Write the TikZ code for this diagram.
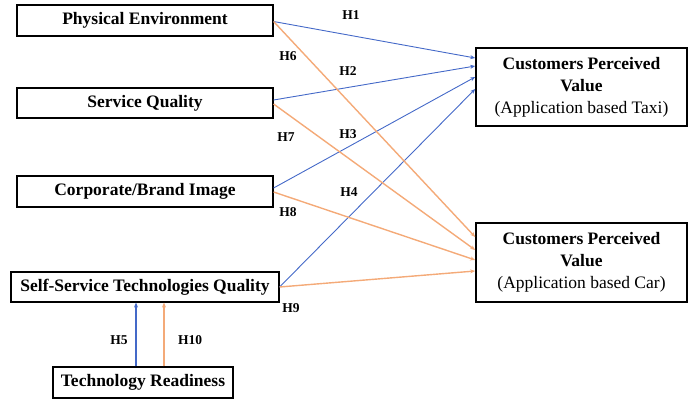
\documentclass[tikz,border=0pt]{standalone}
\usepackage{fontspec}
\setmainfont{Liberation Serif}
\usetikzlibrary{arrows.meta}
\definecolor{bl}{RGB}{68,105,200}
\definecolor{orng}{RGB}{244,170,120}
\tikzset{
  box/.style={draw, line width=1.2pt, inner sep=0pt, font=\fontsize{17.5}{19}\selectfont\bfseries},
  bigbox/.style={draw, line width=1.6pt, inner sep=0pt, align=center, font=\fontsize{17.5}{22}\selectfont},
  ba/.style={bl, line width=0.9pt, -{Stealth[length=5pt,width=4pt]}},
  oa/.style={orng, line width=1.4pt, -{Stealth[length=5pt,width=4pt]}},
  hl/.style={font=\fontsize{13.5}{14}\selectfont\bfseries}
}
\begin{document}
\begin{tikzpicture}[x=1pt,y=-1pt]
\useasboundingbox (0,0) rectangle (689,399);
\node[box, minimum width=256pt, minimum height=31pt] (pe) at (145,20.5) {Physical Environment};
\node[box, minimum width=256pt, minimum height=30pt] (sq) at (145,103) {Service Quality};
\node[box, minimum width=256pt, minimum height=31pt] (cb) at (145,191.5) {Corporate/Brand Image};
\node[box, minimum width=268pt, minimum height=30pt] (st) at (145,287) {Self-Service Technologies Quality};
\node[box, minimum width=180pt, minimum height=31pt] (tr) at (143,382.5) {Technology Readiness};
\node[bigbox, minimum width=211pt, minimum height=78pt] (taxi) at (581.5,87) {\textbf{Customers Perceived}\\\textbf{Value}\\(Application based Taxi)};
\node[bigbox, minimum width=211pt, minimum height=79pt] (car) at (581.5,262.5) {\textbf{Customers Perceived}\\\textbf{Value}\\(Application based Car)};
% blue arrows
\draw[ba] ([yshift=-1pt]pe.east) -- ([yshift=29pt]taxi.west);
\draw[ba] ([yshift=3pt]sq.east) -- ([yshift=21pt]taxi.west);
\draw[ba] ([yshift=3.5pt]cb.east) -- ([yshift=10pt]taxi.west);
\draw[ba] (st.east) -- ([yshift=-2pt]taxi.west);
% orange arrows
\draw[oa] ([yshift=-1pt]pe.east) -- ([yshift=25.5pt]car.west);
\draw[oa] ([yshift=-1pt]sq.east) -- ([yshift=12.5pt]car.west);
\draw[oa] ([yshift=-0.5pt]cb.east) -- ([yshift=2.5pt]car.west);
\draw[oa] (st.east) -- ([yshift=-8.5pt]car.west);
% vertical arrows
\draw[bl, line width=1.6pt, -{Stealth[length=5pt,width=4pt]}] (tr.north -| 136,0) -- (st.south -| 136,0);
\draw[orng, line width=1.2pt, -{Stealth[length=5pt,width=4pt]}] (tr.north -| 164,0) -- (st.south -| 164,0);
% labels
\node[hl] (h1) at (351,15) {H1};
\node[hl] (h2) at (348,71) {H2};
\node[hl] (h3) at (348,134) {H3};
\node[hl] (h4) at (349,192) {H4};
\node[hl] (h6) at (288,56) {H6};
\node[hl] (h7) at (286,137) {H7};
\node[hl] (h8) at (288,212) {H8};
\node[hl] (h9) at (291,308) {H9};
\node[hl] (h5) at (119,340) {H5};
\node[hl] (h10) at (190,340) {H10};
\end{tikzpicture}
\end{document}
